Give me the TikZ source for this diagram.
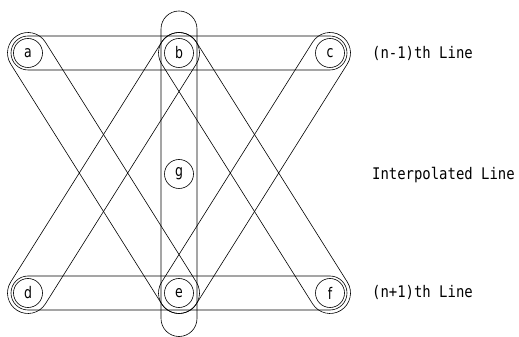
\documentclass[tikz,border=0pt]{standalone}
\usepackage{fontspec}
\setmainfont{DejaVu Sans Mono}
\newfontfamily\labelfont[FakeStretch=0.87]{DejaVu Sans Mono}
\newfontfamily\pixelfont[FakeStretch=0.78]{DejaVu Sans}
\usetikzlibrary{calc}

% Outline of a stadium (capsule) around the segment #1--#2 with radius #3
\newcommand\capsuleoutline[3]{%
  \draw[capsule] let \p1=(#1.center), \p2=(#2.center),
      \n1={atan2(\y2-\y1,\x2-\x1)} in
    ($(#1.center)+(\n1-90:#3)$) -- ($(#2.center)+(\n1-90:#3)$)
    arc[start angle=\n1-90, end angle=\n1+90, radius=#3]
    -- ($(#1.center)+(\n1+90:#3)$)
    arc[start angle=\n1+90, end angle=\n1+270, radius=#3] -- cycle;}

\begin{document}
\begin{tikzpicture}[x=1pt, y=1pt,
  pixel/.style={circle, draw, line width=0.6pt, minimum size=29pt, inner sep=0pt,
                font=\pixelfont\fontsize{16}{16}\selectfont},
  capsule/.style={line width=0.6pt},
  linelabel/.style={anchor=west, inner sep=0pt, font=\labelfont\fontsize{16}{16}\selectfont}]
  \useasboundingbox (0,0) rectangle (519,337);

  % pixels of the previous line, the interpolated line and the next line
  \node[pixel] (a) at (28,284) {a};
  \node[pixel] (b) at (179,284) {b};
  \node[pixel] (c) at (330,284) {c};
  \node[pixel] (g) at (179,163) {g};
  \node[pixel] (d) at (28,44) {d};
  \node[pixel] (e) at (179,44) {e};
  \node[pixel] (f) at (330,44) {f};

  % ends of the vertical window through g
  \coordinate (vtop) at (179,308);
  \coordinate (vbot) at (179,18.5);

  % horizontal windows
  \capsuleoutline{a}{c}{17}
  \capsuleoutline{d}{f}{17}
  % diagonal windows
  \capsuleoutline{a}{e}{20.5}
  \capsuleoutline{c}{e}{20.5}
  \capsuleoutline{b}{d}{20.5}
  \capsuleoutline{b}{f}{20.5}
  % vertical window
  \capsuleoutline{vbot}{vtop}{18}

  % line labels
  \node[linelabel] (l1) at (372,284) {(n-1)th Line};
  \node[linelabel] (l2) at (372,162) {Interpolated Line};
  \node[linelabel] (l3) at (372,45) {(n+1)th Line};
\end{tikzpicture}
\end{document}
